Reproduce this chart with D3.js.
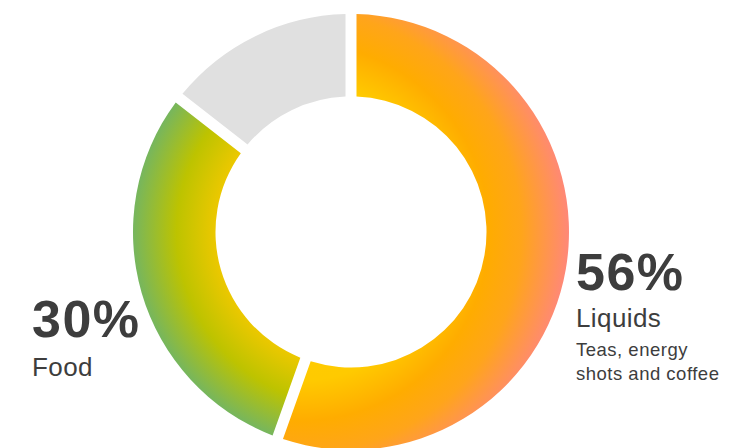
<!DOCTYPE html>
<html>
<head>
    <title>Donut</title>
    <script src="https://d3js.org/d3.v7.min.js"></script>
    <style>
        body { margin: 0; background: #fff; }
        text { font-family: "Liberation Sans", Arial, sans-serif; fill: #3d3d3d; }
        .pct { font-weight: bold; font-size: 52px; letter-spacing: 1.5px; }
        .name { font-size: 26px; letter-spacing: 0.4px; }
        .note { font-size: 18.5px; letter-spacing: 0.5px; }
    </style>
</head>
<body>
    <script>
        // data
        const categories = ["Liquids", "Food", "Other"];
        const shares = [56, 30, 14];
        const liquidsNote = ["Teas, energy", "shots and coffee"];

        const width = 750, height = 448;
        const cx = 351, cy = 232;
        const outerR = 218, innerR = 135.5;
        const gap = 11;

        const svg = d3.select("body")
            .append("svg")
            .attr("width", width)
            .attr("height", height);

        // gradients (coords relative to donut centre, since paths sit in a translated group)
        const defs = svg.append("defs");

        const liqGrad = defs.append("radialGradient")
            .attr("id", "grad-Liquids")
            .attr("gradientUnits", "userSpaceOnUse")
            .attr("cx", -51).attr("cy", 0).attr("r", 270);
        [[0, "#ffd000"], [0.55, "#ffca00"], [0.7, "#ffac00"], [0.82, "#ffa51a"], [1, "#ff877a"]]
            .forEach(s => liqGrad.append("stop").attr("offset", s[0]).attr("stop-color", s[1]));

        const foodGrad = defs.append("radialGradient")
            .attr("id", "grad-Food")
            .attr("gradientUnits", "userSpaceOnUse")
            .attr("cx", 0).attr("cy", 0).attr("r", outerR);
        [[0, "#f0c800"], [0.62, "#ecc800"], [0.8, "#bdc300"], [1, "#76b65e"]]
            .forEach(s => foodGrad.append("stop").attr("offset", s[0]).attr("stop-color", s[1]));

        const fill = d => d.data.cat === "Other" ? "#e0e0e0" : `url(#grad-${d.data.cat})`;

        const pie = d3.pie()
            .sort(null)
            .value(d => d.value)
            .padAngle(gap / outerR);

        const arc = d3.arc()
            .innerRadius(innerR)
            .outerRadius(outerR)
            .padRadius(outerR);

        const slices = pie(categories.map((c, i) => ({ cat: c, value: shares[i] })));

        svg.append("g")
            .attr("transform", `translate(${cx},${cy})`)
            .selectAll("path")
            .data(slices)
            .join("path")
            .attr("d", arc)
            .attr("fill", fill);

        // labels
        const liq = svg.append("g").attr("transform", "translate(576,0)");
        liq.append("text").attr("class", "pct").attr("y", 290).text(shares[0] + "%");
        liq.append("text").attr("class", "name").attr("y", 327).text(categories[0]);
        liq.selectAll(".note")
            .data(liquidsNote)
            .join("text")
            .attr("class", "note")
            .attr("y", (d, i) => 356 + i * 23.5)
            .text(d => d);

        const food = svg.append("g").attr("transform", "translate(32,0)");
        food.append("text").attr("class", "pct").attr("y", 337).text(shares[1] + "%");
        food.append("text").attr("class", "name").attr("y", 376).text(categories[1]);
    </script>
</body>
</html>
